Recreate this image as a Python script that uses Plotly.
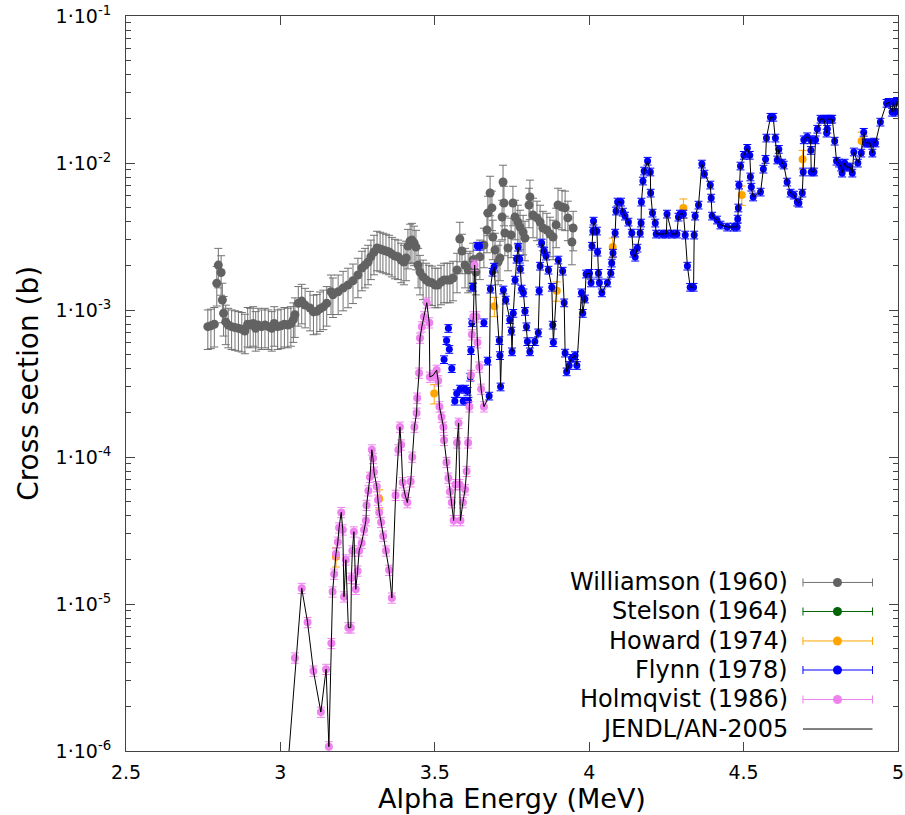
import plotly.graph_objects as go

# ---------------- data (energy in MeV, cross section in b) ----------------
will_E = [2.765, 2.775, 2.786, 2.794, 2.799, 2.808, 2.812, 2.816, 2.823, 2.831, 2.842, 2.853, 2.864,
          2.875, 2.885, 2.894, 2.902, 2.912, 2.920, 2.928, 2.939, 2.950, 2.961, 2.972, 2.980, 2.991,
          3.002, 3.013, 3.024, 3.034, 3.042, 3.047, 3.058, 3.069, 3.080, 3.096, 3.107, 3.118, 3.128,
          3.139, 3.150, 3.164, 3.170, 3.187, 3.203, 3.219, 3.235, 3.251, 3.264, 3.274, 3.284, 3.293,
          3.303, 3.313, 3.323, 3.332, 3.342, 3.352, 3.361, 3.371, 3.381, 3.391, 3.400, 3.407, 3.413,
          3.420, 3.426, 3.433, 3.439, 3.446, 3.452, 3.462, 3.472, 3.481, 3.491, 3.501, 3.510, 3.520,
          3.530, 3.540, 3.549, 3.559, 3.572, 3.581, 3.588, 3.598, 3.608, 3.614, 3.624, 3.633, 3.646,
          3.659, 3.669, 3.672, 3.679, 3.685, 3.688, 3.695, 3.705, 3.711, 3.718, 3.721, 3.724, 3.727,
          3.737, 3.747, 3.753, 3.760, 3.769, 3.776, 3.786, 3.792, 3.805, 3.808, 3.818, 3.831, 3.841,
          3.850, 3.863, 3.873, 3.883, 3.893, 3.899, 3.912, 3.922, 3.931, 3.944, 3.948]
will_S = [7.7e-4, 7.8e-4, 8.0e-4, 1.52e-3, 2.02e-3, 1.80e-3, 1.17e-3, 9.5e-4, 8.3e-4, 7.9e-4, 7.7e-4,
          7.6e-4, 7.5e-4, 7.4e-4, 7.2e-4, 8.0e-4, 7.9e-4, 8.1e-4, 7.5e-4, 7.9e-4, 7.7e-4, 7.9e-4,
          7.7e-4, 7.5e-4, 8.1e-4, 7.7e-4, 7.8e-4, 8.0e-4, 7.9e-4, 8.1e-4, 8.6e-4, 9.3e-4, 1.11e-3,
          1.15e-3, 1.08e-3, 1.03e-3, 9.7e-4, 9.8e-4, 1.02e-3, 1.05e-3, 1.11e-3, 1.33e-3, 1.27e-3,
          1.33e-3, 1.41e-3, 1.48e-3, 1.58e-3, 1.73e-3, 1.93e-3, 2.02e-3, 2.12e-3, 2.30e-3, 2.48e-3,
          2.64e-3, 2.60e-3, 2.56e-3, 2.52e-3, 2.48e-3, 2.40e-3, 2.33e-3, 2.30e-3, 2.19e-3, 2.12e-3,
          2.26e-3, 2.72e-3, 2.95e-3, 2.99e-3, 2.86e-3, 2.68e-3, 2.02e-3, 1.81e-3, 1.68e-3, 1.60e-3,
          1.55e-3, 1.53e-3, 1.48e-3, 1.48e-3, 1.55e-3, 1.60e-3, 1.60e-3, 1.60e-3, 1.65e-3, 1.87e-3,
          3.04e-3, 2.52e-3, 2.02e-3, 1.87e-3, 1.93e-3, 2.19e-3, 1.81e-3, 2.30e-3, 2.77e-3, 3.50e-3,
          4.57e-3, 6.25e-3, 4.95e-3, 3.14e-3, 2.56e-3, 2.12e-3, 2.26e-3, 4.29e-3, 7.43e-3, 5.34e-3,
          3.34e-3, 2.64e-3, 3.24e-3, 5.34e-3, 4.29e-3, 3.97e-3, 3.67e-3, 3.39e-3, 3.09e-3, 5.18e-3,
          5.88e-3, 4.43e-3, 4.23e-3, 3.97e-3, 3.61e-3, 3.50e-3, 3.29e-3, 3.14e-3, 3.79e-3, 5.18e-3,
          5.02e-3, 4.95e-3, 4.23e-3, 2.90e-3, 3.61e-3]

stel_E = []
stel_S = []

how_E = [3.180, 3.320, 3.498, 3.693, 3.895, 4.076, 4.305, 4.494, 4.691, 4.882]
how_S = [2.1e-5, 5.2e-5, 2.7e-4, 1.06e-3, 1.35e-3, 2.68e-3, 4.95e-3, 6.06e-3, 1.06e-2, 1.41e-2]

fly_E = [3.530, 3.538, 3.544, 3.547, 3.555, 3.565, 3.571, 3.582, 3.592, 3.598, 3.606, 3.609, 3.615,
         3.617, 3.620, 3.623, 3.638, 3.645, 3.659, 3.671, 3.676, 3.680, 3.687, 3.692, 3.709, 3.711,
         3.713, 3.722, 3.730, 3.743, 3.748, 3.750, 3.754, 3.760, 3.765, 3.770, 3.775, 3.777, 3.781,
         3.787, 3.792, 3.797, 3.800, 3.808, 3.824, 3.835, 3.838, 3.841, 3.846, 3.854, 3.860, 3.868,
         3.879, 3.882, 3.884, 3.900, 3.914, 3.919, 3.922, 3.927, 3.935, 3.943, 3.954, 3.960, 3.975,
         3.979, 3.986, 3.990, 4.001, 4.006, 4.009, 4.012, 4.014, 4.025, 4.027, 4.030, 4.033, 4.041,
         4.059, 4.070, 4.073, 4.077, 4.084, 4.087, 4.092, 4.103, 4.109, 4.116, 4.127, 4.138, 4.143,
         4.149, 4.156, 4.165, 4.168, 4.169, 4.174, 4.178, 4.189, 4.198, 4.199, 4.205, 4.214, 4.217,
         4.236, 4.250, 4.252, 4.268, 4.284, 4.289, 4.294, 4.305, 4.311, 4.318, 4.327, 4.338, 4.340,
         4.343, 4.354, 4.365, 4.373, 4.392, 4.395, 4.398, 4.414, 4.425, 4.447, 4.468, 4.479, 4.481,
         4.483, 4.485, 4.490, 4.501, 4.512, 4.520, 4.522, 4.525, 4.531, 4.555, 4.564, 4.571, 4.574,
         4.587, 4.596, 4.603, 4.609, 4.614, 4.625, 4.630, 4.641, 4.652, 4.663, 4.674, 4.679, 4.690,
         4.693, 4.695, 4.706, 4.717, 4.718, 4.719, 4.728, 4.733, 4.739, 4.749, 4.760, 4.769, 4.771,
         4.772, 4.782, 4.787, 4.795, 4.801, 4.809, 4.816, 4.819, 4.827, 4.833, 4.844, 4.852, 4.857,
         4.870, 4.881, 4.889, 4.895, 4.902, 4.909, 4.917, 4.922, 4.927, 4.943, 4.963, 4.970, 4.981,
         4.985, 4.992, 4.997]
fly_S = [4.6e-4, 6.2e-4, 7.5e-4, 5.4e-4, 4.0e-4, 2.4e-4, 2.7e-4, 2.9e-4, 2.4e-4, 2.9e-4, 2.8e-4,
         2.4e-4, 3.5e-4, 5.3e-4, 8.2e-4, 1.43e-3, 2.72e-3, 2.72e-3, 8.2e-4, 4.5e-4, 2.6e-4, 1.39e-3,
         1.81e-3, 1.96e-3, 6.2e-4, 4.9e-4, 3.0e-4, 1.37e-3, 1.17e-3, 8.6e-4, 7.2e-4, 5.2e-4, 9.5e-4,
         1.6e-3, 2.22e-3, 2.68e-3, 2.22e-3, 1.90e-3, 1.39e-3, 1.31e-3, 9.8e-4, 7.7e-4, 6.1e-4, 5.2e-4,
         6.1e-4, 7.0e-4, 1.35e-3, 1.99e-3, 2.86e-3, 2.52e-3, 2.33e-3, 1.87e-3, 1.43e-3, 7.9e-4, 6.0e-4,
         2.19e-3, 1.84e-3, 1.12e-3, 5.1e-4, 3.8e-4, 4.2e-4, 4.7e-4, 4.9e-4, 4.2e-4, 1.31e-3, 9.5e-4,
         1.19e-3, 1.76e-3, 1.78e-3, 1.53e-3, 2.72e-3, 3.45e-3, 4.03e-3, 3.45e-3, 2.48e-3, 1.78e-3,
         1.53e-3, 1.31e-3, 1.53e-3, 1.78e-3, 2.09e-3, 2.44e-3, 3.34e-3, 4.72e-3, 5.43e-3, 5.43e-3,
         4.64e-3, 4.36e-3, 3.97e-3, 3.34e-3, 2.44e-3, 2.29e-3, 2.64e-3, 3.34e-3, 3.91e-3, 5.43e-3,
         7.55e-3, 8.83e-3, 1.03e-2, 8.7e-3, 6.25e-3, 4.57e-3, 3.91e-3, 3.29e-3, 3.29e-3, 3.29e-3,
         4.50e-3, 3.29e-3, 3.29e-3, 4.29e-3, 4.50e-3, 4.50e-3, 3.24e-3, 1.99e-3, 1.43e-3, 1.43e-3,
         3.24e-3, 4.36e-3, 5.18e-3, 9.85e-3, 8.42e-3, 7.09e-3, 5.78e-3, 4.36e-3, 4.10e-3, 3.79e-3,
         3.67e-3, 3.67e-3, 3.67e-3, 4.16e-3, 4.95e-3, 7.09e-3, 9.55e-3, 1.13e-2, 1.26e-2, 1.13e-2,
         8.05e-3, 6.86e-3, 5.88e-3, 6.35e-3, 9.1e-3, 1.06e-2, 1.48e-2, 2.05e-2, 2.05e-2, 1.48e-2,
         1.05e-2, 1.24e-2, 1.0e-2, 9.7e-3, 7.43e-3, 6.25e-3, 6.06e-3, 5.43e-3, 5.34e-3, 6.25e-3,
         8.7e-3, 1.44e-2, 1.51e-2, 1.44e-2, 1.22e-2, 8.7e-3, 8.7e-3, 1.44e-2, 1.70e-2, 1.99e-2,
         1.99e-2, 1.60e-2, 1.70e-2, 1.99e-2, 1.99e-2, 1.99e-2, 1.41e-2, 1.03e-2, 1.0e-2, 9.4e-3,
         8.55e-3, 1.0e-2, 9.4e-3, 9.4e-3, 8.55e-3, 1.19e-2, 1.0e-2, 1.17e-2, 1.62e-2, 1.37e-2,
         1.37e-2, 1.37e-2, 1.17e-2, 1.39e-2, 1.37e-2, 1.90e-2, 2.55e-2, 2.59e-2, 2.22e-2, 2.59e-2,
         2.22e-2, 2.63e-2]

holm_E = [3.047, 3.069, 3.088, 3.107, 3.131, 3.148, 3.157, 3.165, 3.169, 3.174, 3.180, 3.186, 3.190,
          3.197, 3.202, 3.206, 3.212, 3.220, 3.228, 3.230, 3.233, 3.238, 3.244, 3.250, 3.255, 3.263,
          3.271, 3.277, 3.279, 3.285, 3.290, 3.296, 3.300, 3.303, 3.312, 3.316, 3.320, 3.326, 3.333,
          3.342, 3.352, 3.361, 3.373, 3.382, 3.387, 3.391, 3.396, 3.404, 3.411, 3.422, 3.427, 3.434,
          3.441, 3.443, 3.449, 3.452, 3.458, 3.465, 3.474, 3.482, 3.484, 3.495, 3.506, 3.511, 3.515,
          3.522, 3.528, 3.530, 3.538, 3.544, 3.549, 3.555, 3.561, 3.567, 3.572, 3.577, 3.580, 3.583,
          3.591, 3.598, 3.603, 3.608, 3.612, 3.617, 3.620, 3.625, 3.629, 3.635, 3.638, 3.644, 3.650,
          3.659]
holm_S = [4.3e-6, 1.28e-5, 7.5e-6, 3.5e-6, 1.84e-6, 3.6e-6, 1.07e-6, 5.4e-6, 1.21e-5, 1.6e-5, 2.2e-5,
          2.64e-5, 3.3e-5, 4.2e-5, 3.2e-5, 1.12e-5, 2.0e-5, 6.9e-6, 6.9e-6, 1.5e-5, 2.3e-5, 3.1e-5,
          1.26e-5, 1.68e-5, 2.3e-5, 2.6e-5, 3.2e-5, 3.7e-5, 4.7e-5, 5.9e-5, 7.3e-5, 1.12e-4, 9.8e-5,
          7.9e-5, 6.3e-5, 5.1e-5, 4.2e-5, 3.6e-5, 2.9e-5, 2.3e-5, 1.7e-5, 1.1e-5, 5.5e-5, 1.12e-4,
          1.6e-4, 1.21e-4, 6.7e-5, 5.5e-5, 4.9e-5, 6.8e-5, 1.0e-4, 1.6e-4, 1.99e-4, 2.52e-4, 3.73e-4,
          6.45e-4, 7.7e-4, 9.0e-4, 1.12e-3, 8.2e-4, 3.5e-4, 3.6e-4, 3.9e-4, 3.3e-4, 2.2e-4, 1.87e-4,
          1.6e-4, 1.3e-4, 9.2e-5, 7.2e-5, 5.8e-5, 4.9e-5, 3.7e-5, 6.5e-5, 1.25e-4, 1.7e-4, 6.5e-5,
          3.7e-5, 4.9e-5, 6.0e-5, 8.0e-5, 1.25e-4, 2.2e-4, 3.6e-4, 6.8e-4, 9.0e-4, 2.02e-3, 9.0e-4,
          6.0e-4, 4.1e-4, 2.9e-4, 2.2e-4]

jendl_E = [3.020, 3.069, 3.088, 3.107, 3.131, 3.148, 3.157, 3.165, 3.169, 3.174, 3.180, 3.186, 3.190,
           3.197, 3.202, 3.206, 3.212, 3.220, 3.228, 3.230, 3.233, 3.238, 3.244, 3.250, 3.255, 3.263,
           3.271, 3.277, 3.279, 3.285, 3.290, 3.296, 3.300, 3.303, 3.312, 3.316, 3.320, 3.326, 3.333,
           3.342, 3.352, 3.361, 3.373, 3.382, 3.387, 3.391, 3.396, 3.404, 3.411, 3.422, 3.427, 3.434,
           3.441, 3.443, 3.449, 3.452, 3.458, 3.465, 3.474, 3.482, 3.484, 3.495, 3.506, 3.511, 3.515,
           3.522, 3.528, 3.530, 3.538, 3.544, 3.549, 3.555, 3.561, 3.567, 3.572, 3.577, 3.580, 3.583,
           3.591, 3.598, 3.603, 3.608, 3.612, 3.617, 3.620, 3.625, 3.629, 3.635, 3.638, 3.644, 3.650,
           3.659, 3.676, 3.680, 3.687, 3.692, 3.709, 3.711, 3.713, 3.722, 3.730, 3.743, 3.748, 3.750,
           3.754, 3.760, 3.765, 3.770, 3.775, 3.777, 3.781, 3.787, 3.792, 3.797, 3.800, 3.808, 3.824,
           3.835, 3.838, 3.841, 3.846, 3.854, 3.860, 3.868, 3.879, 3.882, 3.884, 3.900, 3.914, 3.919,
           3.922, 3.927, 3.935, 3.943, 3.954, 3.960, 3.975, 3.979, 3.986, 3.990, 4.001, 4.006, 4.009,
           4.012, 4.014, 4.025, 4.027, 4.030, 4.033, 4.041, 4.059, 4.070, 4.073, 4.077, 4.084, 4.087,
           4.092, 4.103, 4.109, 4.116, 4.127, 4.138, 4.143, 4.149, 4.156, 4.165, 4.168, 4.169, 4.174,
           4.178, 4.189, 4.198, 4.199, 4.205, 4.214, 4.217, 4.236, 4.250, 4.252, 4.268, 4.284, 4.289,
           4.294, 4.305, 4.311, 4.318, 4.327, 4.338, 4.340, 4.343, 4.354, 4.365, 4.373, 4.392, 4.395,
           4.398, 4.414, 4.425, 4.447, 4.468, 4.479, 4.481, 4.483, 4.485, 4.490, 4.501, 4.512, 4.520,
           4.522, 4.525, 4.531, 4.555, 4.564, 4.571, 4.574, 4.587, 4.596, 4.603, 4.609, 4.614, 4.625,
           4.630, 4.641, 4.652, 4.663, 4.674, 4.679, 4.690, 4.693, 4.695, 4.706, 4.717, 4.718, 4.719,
           4.728, 4.733, 4.739, 4.749, 4.760, 4.769, 4.771, 4.772, 4.782, 4.787, 4.795, 4.801, 4.809,
           4.816, 4.819, 4.827, 4.833, 4.844, 4.852, 4.857, 4.870, 4.881, 4.889, 4.895, 4.902, 4.909,
           4.917, 4.922, 4.927, 4.943, 4.963, 4.970, 4.981, 4.985, 4.992, 4.997]
jendl_S = [6.1e-7, 1.28e-5, 7.5e-6, 3.5e-6, 1.84e-6, 3.6e-6, 1.07e-6, 5.4e-6, 1.21e-5, 1.6e-5, 2.2e-5,
           2.64e-5, 3.3e-5, 4.2e-5, 3.2e-5, 1.12e-5, 2.0e-5, 6.9e-6, 6.9e-6, 1.5e-5, 2.3e-5, 3.1e-5,
           1.26e-5, 1.68e-5, 2.3e-5, 2.6e-5, 3.2e-5, 3.7e-5, 4.7e-5, 5.9e-5, 7.3e-5, 1.12e-4, 9.8e-5,
           7.9e-5, 6.3e-5, 5.1e-5, 4.2e-5, 3.6e-5, 2.9e-5, 2.3e-5, 1.7e-5, 1.1e-5, 5.5e-5, 1.12e-4,
           1.6e-4, 1.21e-4, 6.7e-5, 5.5e-5, 4.9e-5, 6.8e-5, 1.0e-4, 1.6e-4, 1.99e-4, 2.52e-4, 3.73e-4,
           6.45e-4, 7.7e-4, 9.0e-4, 1.12e-3, 8.2e-4, 3.5e-4, 3.6e-4, 3.9e-4, 3.3e-4, 2.2e-4, 1.87e-4,
           1.6e-4, 1.3e-4, 9.2e-5, 7.2e-5, 5.8e-5, 4.9e-5, 3.7e-5, 6.5e-5, 1.25e-4, 1.7e-4, 6.5e-5,
           3.7e-5, 4.9e-5, 6.0e-5, 8.0e-5, 1.25e-4, 2.2e-4, 3.6e-4, 6.8e-4, 9.0e-4, 2.02e-3, 9.0e-4,
           6.0e-4, 4.1e-4, 2.9e-4, 2.2e-4, 2.6e-4, 1.39e-3, 1.81e-3, 1.96e-3, 6.2e-4, 4.9e-4, 3.0e-4,
           1.37e-3, 1.17e-3, 8.6e-4, 7.2e-4, 5.2e-4, 9.5e-4, 1.6e-3, 2.22e-3, 2.68e-3, 2.22e-3, 1.90e-3,
           1.39e-3, 1.31e-3, 9.8e-4, 7.7e-4, 6.1e-4, 5.2e-4, 6.1e-4, 7.0e-4, 1.35e-3, 1.99e-3, 2.86e-3,
           2.52e-3, 2.33e-3, 1.87e-3, 1.43e-3, 7.9e-4, 6.0e-4, 2.19e-3, 1.84e-3, 1.12e-3, 5.1e-4,
           3.8e-4, 4.2e-4, 4.7e-4, 4.9e-4, 4.2e-4, 1.31e-3, 9.5e-4, 1.19e-3, 1.76e-3, 1.78e-3, 1.53e-3,
           2.72e-3, 3.45e-3, 4.03e-3, 3.45e-3, 2.48e-3, 1.78e-3, 1.53e-3, 1.31e-3, 1.53e-3, 1.78e-3,
           2.09e-3, 2.44e-3, 3.34e-3, 4.72e-3, 5.43e-3, 5.43e-3, 4.64e-3, 4.36e-3, 3.97e-3, 3.34e-3,
           2.44e-3, 2.29e-3, 2.64e-3, 3.34e-3, 3.91e-3, 5.43e-3, 7.55e-3, 8.83e-3, 1.03e-2, 8.7e-3,
           6.25e-3, 4.57e-3, 3.91e-3, 3.29e-3, 3.29e-3, 3.29e-3, 4.50e-3, 3.29e-3, 3.29e-3, 4.29e-3,
           4.50e-3, 4.50e-3, 3.24e-3, 1.99e-3, 1.43e-3, 1.43e-3, 3.24e-3, 4.36e-3, 5.18e-3, 9.85e-3,
           8.42e-3, 7.09e-3, 5.78e-3, 4.36e-3, 4.10e-3, 3.79e-3, 3.67e-3, 3.67e-3, 3.67e-3, 4.16e-3,
           4.95e-3, 7.09e-3, 9.55e-3, 1.13e-2, 1.26e-2, 1.13e-2, 8.05e-3, 6.86e-3, 5.88e-3, 6.35e-3,
           9.1e-3, 1.06e-2, 1.48e-2, 2.05e-2, 2.05e-2, 1.48e-2, 1.05e-2, 1.24e-2, 1.0e-2, 9.7e-3,
           7.43e-3, 6.25e-3, 6.06e-3, 5.43e-3, 5.34e-3, 6.25e-3, 8.7e-3, 1.44e-2, 1.51e-2, 1.44e-2,
           1.22e-2, 8.7e-3, 8.7e-3, 1.44e-2, 1.70e-2, 1.99e-2, 1.99e-2, 1.60e-2, 1.70e-2, 1.99e-2,
           1.99e-2, 1.99e-2, 1.41e-2, 1.03e-2, 1.0e-2, 9.4e-3, 8.55e-3, 1.0e-2, 9.4e-3, 9.4e-3,
           8.55e-3, 1.19e-2, 1.0e-2, 1.17e-2, 1.62e-2, 1.37e-2, 1.37e-2, 1.37e-2, 1.17e-2, 1.39e-2,
           1.37e-2, 1.90e-2, 2.55e-2, 2.59e-2, 2.22e-2, 2.59e-2, 2.22e-2, 2.63e-2]

# relative uncertainties (percent)
will_err, stel_err, how_err, fly_err, holm_err = 30, 10, 15, 6, 8

series_names = ["Williamson (1960)", "Stelson (1964)", "Howard (1974)", "Flynn (1978)",
                "Holmqvist (1986)", "JENDL/AN-2005"]
x_title = "Alpha Energy (MeV)"
y_title = "Cross section (b)"
y_tickvals = [1e-6, 1e-5, 1e-4, 1e-3, 1e-2, 1e-1]
y_ticktext = ["1·10<sup>-6</sup>", "1·10<sup>-5</sup>", "1·10<sup>-4</sup>",
              "1·10<sup>-3</sup>", "1·10<sup>-2</sup>", "1·10<sup>-1</sup>"]
x_tickvals = [2.5, 3, 3.5, 4, 4.5, 5]
x_ticktext = ["2.5", "3", "3.5", "4", "4.5", "5"]

colors = ["#626262", "#006400", "#ffa500", "#0000ff", "#ee82ee", "#000000"]
bar_colors = ["#727272", "#006400", "#ffa500", "#0000ff", "#ee82ee", "#000000"]

FONT = "DejaVu Sans"
fig = go.Figure()


def add_points(E, S, err, i, size):
    fig.add_trace(go.Scatter(
        x=E, y=S, mode="markers", name=series_names[i], showlegend=False,
        marker=dict(color=colors[i], size=size, line=dict(width=0)),
        error_y=dict(type="percent", value=err, color=bar_colors[i], thickness=1, width=4),
    ))


add_points(will_E, will_S, will_err, 0, 9)
add_points(stel_E, stel_S, stel_err, 1, 8)
add_points(how_E, how_S, how_err, 2, 8)
add_points(fly_E, fly_S, fly_err, 3, 7)
add_points(holm_E, holm_S, holm_err, 4, 8)
fig.add_trace(go.Scatter(x=jendl_E, y=jendl_S, mode="lines", name=series_names[5], showlegend=False,
                         line=dict(color="#000000", width=1)))

# ---------------- gnuplot-style key (text left, sample right) ----------------
row_y = [0.2293, 0.1898, 0.1497, 0.1102, 0.0701, 0.0299]
text_x = 0.8600
s_x0, s_x1, s_xm = 0.8769, 0.9670, 0.9216
shapes = []
annotations = []
for i, name in enumerate(series_names):
    yy = row_y[i]
    annotations.append(dict(x=text_x, y=yy, xref="paper", yref="paper", text=name, showarrow=False,
                            xanchor="right", yanchor="middle", font=dict(family=FONT, size=24, color="#000")))
    lc = bar_colors[i] if i < 5 else "#000000"
    shapes.append(dict(type="line", xref="paper", yref="paper", x0=s_x0, x1=s_x1, y0=yy, y1=yy,
                       line=dict(color=lc, width=1)))
    if i < 5:
        for cx in (s_x0, s_x1):
            shapes.append(dict(type="line", xref="paper", yref="paper", xanchor=cx, yanchor=yy,
                               xsizemode="pixel", ysizemode="pixel", x0=0, x1=0, y0=-4, y1=4,
                               line=dict(color=lc, width=1)))
        shapes.append(dict(type="circle", xref="paper", yref="paper", xanchor=s_xm, yanchor=yy,
                           xsizemode="pixel", ysizemode="pixel", x0=-4.5, x1=4.5, y0=-4.5, y1=4.5,
                           fillcolor=colors[i], line=dict(width=0)))

# axis titles as annotations (placed like the gnuplot original)
annotations.append(dict(x=0.5, y=-0.0653, xref="paper", yref="paper", text=x_title, showarrow=False,
                        xanchor="center", yanchor="middle", borderpad=0,
                        font=dict(family=FONT, size=27, color="#000")))
annotations.append(dict(x=-0.1265, y=0.5, xref="paper", yref="paper", text=y_title, showarrow=False,
                        textangle=-90, xanchor="center", yanchor="middle",
                        font=dict(family=FONT, size=28, color="#000")))

minor_vals = [m * d for d in [1e-6, 1e-5, 1e-4, 1e-3, 1e-2] for m in range(2, 10)]

fig.update_layout(
    width=905, height=815,
    margin=dict(l=126, r=7, t=16, b=64, autoexpand=False),
    paper_bgcolor="white", plot_bgcolor="white",
    font=dict(family=FONT, size=19, color="#000"),
    shapes=shapes, annotations=annotations,
    showlegend=False,
    xaxis=dict(range=[2.5, 5], tickvals=x_tickvals, ticktext=x_ticktext, ticks="inside",
               ticklen=9, tickcolor="#444", showline=True, linecolor="#444", linewidth=1,
               mirror="allticks", showgrid=False, zeroline=False, ticklabelstandoff=4,
               automargin=False, tickfont=dict(size=19)),
    yaxis=dict(type="log", range=[-6, -1], tickvals=y_tickvals, ticktext=y_ticktext,
               ticks="inside", ticklen=9, tickcolor="#444", showline=True, linecolor="#444",
               linewidth=1, mirror="allticks", showgrid=False, zeroline=False, ticklabelstandoff=10,
               automargin=False,
               minor=dict(tickvals=minor_vals, ticks="inside", ticklen=5, tickcolor="#444", showgrid=False),
               tickfont=dict(size=19)),
)

fig.write_html("out.html")
